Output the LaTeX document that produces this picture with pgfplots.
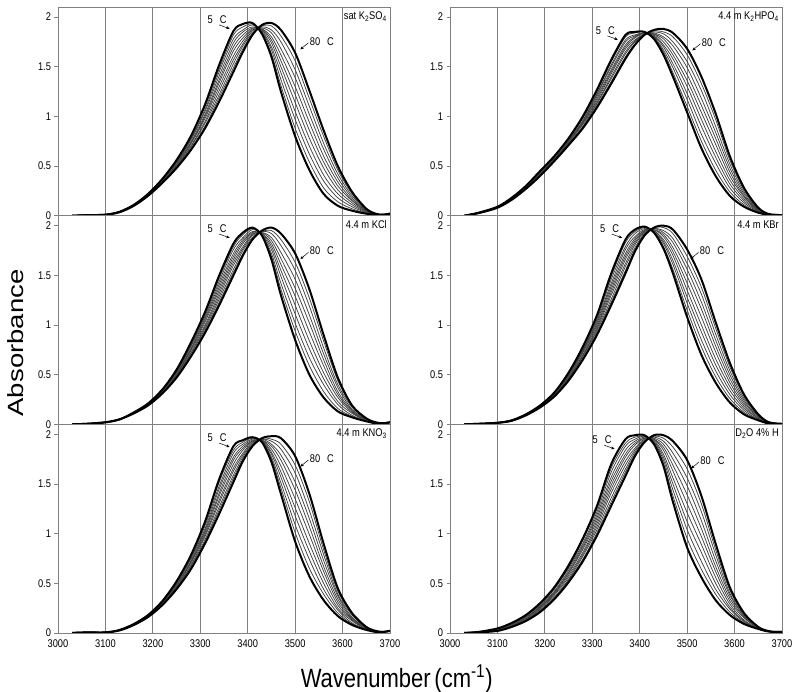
\documentclass[border=0pt]{standalone}
\usepackage{fontspec}
\setmainfont{Liberation Sans}
\usepackage{graphicx}
\usepackage{pgfplots}
\usepackage{pgfplotstable}
\pgfplotsset{compat=1.18}
\usetikzlibrary{arrows.meta}

\newcommand\tl[1]{\scalebox{1}[1.2]{#1}}
\newcommand\smallfont{\fontsize{9.3}{10}\selectfont}

% sat K2SO4
\pgfplotstableread{
x c0 c1 c2 c3 c4 c5 c6 c7 c8 c9 c10
3030 0 0 0 0 0 0 0 0 0 0 0
3060 0.005 0.005 0.005 0.005 0.005 0.005 0.005 0.005 0.005 0.005 0.005
3100 0.01 0.01 0.01 0.01 0.01 0.01 0.01 0.01 0.01 0.01 0.01
3130 0.04 0.04 0.04 0.04 0.04 0.04 0.04 0.04 0.04 0.04 0.035
3160 0.11 0.11 0.11 0.11 0.11 0.105 0.10 0.10 0.10 0.10 0.10
3190 0.22 0.22 0.22 0.21 0.21 0.21 0.21 0.21 0.20 0.20 0.20
3220 0.37 0.37 0.36 0.36 0.35 0.35 0.35 0.34 0.34 0.33 0.33
3250 0.56 0.55 0.54 0.54 0.53 0.52 0.51 0.50 0.50 0.49 0.48
3280 0.80 0.79 0.77 0.76 0.74 0.73 0.72 0.70 0.69 0.67 0.66
3310 1.12 1.10 1.07 1.05 1.02 1.00 0.98 0.95 0.93 0.90 0.88
3340 1.52 1.48 1.45 1.41 1.37 1.34 1.30 1.26 1.22 1.19 1.15
3370 1.86 1.82 1.78 1.74 1.70 1.66 1.61 1.57 1.53 1.49 1.45
3390 1.93 1.90 1.87 1.85 1.82 1.79 1.76 1.73 1.71 1.68 1.65
3410 1.94 1.93 1.92 1.90 1.89 1.88 1.87 1.86 1.84 1.83 1.82
3430 1.83 1.84 1.85 1.86 1.87 1.88 1.88 1.89 1.90 1.91 1.92
3450 1.60 1.63 1.67 1.70 1.74 1.77 1.80 1.84 1.87 1.91 1.94
3470 1.25 1.31 1.37 1.44 1.50 1.56 1.62 1.68 1.75 1.81 1.87
3500 0.80 0.88 0.97 1.05 1.14 1.22 1.30 1.39 1.47 1.56 1.64
3530 0.46 0.54 0.62 0.70 0.78 0.86 0.94 1.02 1.10 1.18 1.26
3560 0.22 0.28 0.35 0.41 0.48 0.54 0.60 0.67 0.73 0.80 0.86
3590 0.10 0.14 0.18 0.22 0.26 0.30 0.34 0.38 0.42 0.46 0.50
3620 0.05 0.07 0.09 0.11 0.13 0.15 0.16 0.18 0.20 0.22 0.24
3650 0.02 0.025 0.03 0.035 0.04 0.045 0.05 0.055 0.06 0.065 0.07
3670 0.01 0.01 0.01 0.01 0.01 0.015 0.015 0.02 0.02 0.02 0.02
3685 0.01 0.01 0.01 0.01 0.01 0.01 0.01 0.01 0.01 0.01 0.01
3700 0.02 0.02 0.02 0.02 0.02 0.02 0.02 0.02 0.02 0.02 0.02
}\tabA

% 4.4 m K2HPO4
\pgfplotstableread{
x c0 c1 c2 c3 c4 c5 c6 c7 c8 c9 c10
3030 0 0 0 0 0 0 0 0 0 0 0
3060 0.03 0.03 0.03 0.03 0.03 0.03 0.03 0.025 0.025 0.025 0.025
3100 0.09 0.09 0.09 0.09 0.09 0.085 0.085 0.08 0.08 0.08 0.08
3130 0.18 0.18 0.18 0.17 0.17 0.17 0.17 0.17 0.16 0.16 0.16
3160 0.30 0.30 0.29 0.29 0.29 0.29 0.28 0.28 0.28 0.27 0.27
3190 0.45 0.45 0.44 0.44 0.43 0.43 0.42 0.42 0.41 0.41 0.40
3220 0.60 0.60 0.59 0.59 0.58 0.58 0.57 0.57 0.56 0.56 0.55
3250 0.78 0.77 0.77 0.76 0.75 0.75 0.74 0.73 0.72 0.72 0.71
3280 1.00 0.99 0.98 0.96 0.95 0.94 0.93 0.92 0.90 0.89 0.88
3310 1.27 1.25 1.23 1.22 1.20 1.18 1.16 1.14 1.13 1.11 1.09
3340 1.57 1.55 1.52 1.50 1.47 1.45 1.43 1.40 1.38 1.35 1.33
3370 1.82 1.80 1.77 1.75 1.72 1.70 1.68 1.65 1.63 1.60 1.58
3390 1.85 1.84 1.82 1.81 1.80 1.79 1.77 1.76 1.75 1.73 1.72
3410 1.85 1.85 1.84 1.84 1.84 1.84 1.83 1.83 1.83 1.82 1.82
3430 1.78 1.79 1.80 1.81 1.82 1.83 1.83 1.84 1.85 1.86 1.87
3450 1.62 1.65 1.67 1.70 1.72 1.75 1.78 1.80 1.83 1.85 1.88
3470 1.40 1.44 1.49 1.53 1.58 1.62 1.66 1.71 1.75 1.80 1.84
3500 1.04 1.10 1.17 1.23 1.30 1.36 1.42 1.49 1.55 1.62 1.68
3530 0.68 0.75 0.82 0.90 0.97 1.04 1.11 1.18 1.26 1.33 1.40
3560 0.40 0.46 0.53 0.59 0.65 0.72 0.78 0.84 0.90 0.97 1.03
3590 0.20 0.24 0.28 0.32 0.36 0.40 0.44 0.48 0.52 0.56 0.60
3620 0.09 0.11 0.13 0.15 0.17 0.19 0.20 0.22 0.24 0.26 0.28
3650 0.03 0.035 0.04 0.045 0.05 0.055 0.06 0.065 0.07 0.075 0.08
3670 0.01 0.01 0.01 0.01 0.01 0.015 0.015 0.02 0.02 0.02 0.02
3685 0.005 0.005 0.005 0.005 0.005 0.01 0.01 0.01 0.01 0.01 0.01
3700 0.005 0.005 0.005 0.005 0.005 0.005 0.005 0.005 0.005 0.005 0.005
}\tabB

% 4.4 m KCl
\pgfplotstableread{
x c0 c1 c2 c3 c4 c5 c6 c7 c8 c9 c10
3030 0 0 0 0 0 0 0 0 0 0 0
3060 0.005 0.005 0.005 0.005 0.005 0.005 0.005 0.005 0.005 0.005 0.005
3100 0.02 0.02 0.02 0.02 0.02 0.02 0.02 0.02 0.02 0.02 0.02
3130 0.05 0.05 0.05 0.05 0.05 0.05 0.05 0.05 0.05 0.05 0.05
3160 0.12 0.12 0.12 0.12 0.12 0.115 0.11 0.11 0.11 0.11 0.11
3190 0.21 0.21 0.21 0.20 0.20 0.20 0.20 0.20 0.19 0.19 0.19
3220 0.35 0.35 0.34 0.34 0.33 0.33 0.33 0.32 0.32 0.31 0.31
3250 0.55 0.54 0.53 0.53 0.52 0.51 0.50 0.49 0.49 0.48 0.47
3280 0.82 0.81 0.79 0.78 0.76 0.75 0.74 0.72 0.71 0.69 0.68
3310 1.13 1.11 1.09 1.07 1.05 1.03 1.00 0.98 0.96 0.94 0.92
3340 1.50 1.47 1.44 1.41 1.38 1.35 1.32 1.29 1.26 1.23 1.20
3370 1.82 1.79 1.76 1.72 1.69 1.66 1.63 1.60 1.56 1.53 1.50
3390 1.93 1.91 1.88 1.86 1.84 1.82 1.79 1.77 1.75 1.72 1.70
3410 1.98 1.97 1.96 1.94 1.93 1.92 1.91 1.90 1.88 1.87 1.86
3430 1.90 1.90 1.91 1.91 1.92 1.92 1.93 1.93 1.94 1.94 1.95
3450 1.66 1.69 1.72 1.76 1.79 1.82 1.85 1.88 1.92 1.95 1.98
3470 1.30 1.36 1.42 1.49 1.55 1.61 1.67 1.73 1.80 1.86 1.92
3500 0.85 0.94 1.02 1.11 1.20 1.29 1.37 1.46 1.55 1.63 1.72
3530 0.50 0.59 0.67 0.76 0.84 0.93 1.02 1.10 1.19 1.27 1.36
3560 0.27 0.33 0.40 0.46 0.52 0.59 0.65 0.71 0.77 0.84 0.90
3590 0.13 0.16 0.20 0.23 0.27 0.30 0.33 0.37 0.40 0.44 0.47
3620 0.07 0.08 0.09 0.11 0.12 0.13 0.14 0.15 0.17 0.18 0.19
3650 0.03 0.03 0.04 0.04 0.04 0.045 0.05 0.05 0.05 0.06 0.06
3670 0.01 0.01 0.01 0.01 0.01 0.015 0.015 0.02 0.02 0.02 0.02
3685 0.01 0.01 0.01 0.01 0.01 0.01 0.01 0.01 0.01 0.01 0.01
3700 0.02 0.02 0.02 0.02 0.02 0.02 0.02 0.02 0.02 0.02 0.02
}\tabC

% 4.4 m KBr
\pgfplotstableread{
x c0 c1 c2 c3 c4 c5 c6 c7 c8 c9 c10
3030 0 0 0 0 0 0 0 0 0 0 0
3060 0.005 0.005 0.005 0.005 0.005 0.005 0.005 0.005 0.005 0.005 0.005
3100 0.015 0.015 0.015 0.015 0.015 0.015 0.015 0.015 0.015 0.015 0.015
3130 0.04 0.04 0.04 0.04 0.04 0.04 0.035 0.035 0.035 0.035 0.035
3160 0.10 0.10 0.10 0.10 0.10 0.095 0.095 0.09 0.09 0.09 0.09
3190 0.19 0.19 0.19 0.18 0.18 0.18 0.18 0.18 0.17 0.17 0.17
3220 0.32 0.32 0.31 0.31 0.30 0.30 0.30 0.29 0.29 0.28 0.28
3250 0.52 0.51 0.50 0.50 0.49 0.48 0.47 0.46 0.46 0.45 0.44
3280 0.78 0.77 0.75 0.74 0.73 0.72 0.70 0.69 0.68 0.66 0.65
3310 1.10 1.08 1.06 1.04 1.02 1.00 0.98 0.96 0.94 0.92 0.90
3340 1.52 1.49 1.46 1.42 1.39 1.36 1.33 1.30 1.26 1.23 1.20
3370 1.86 1.83 1.79 1.76 1.72 1.69 1.66 1.62 1.59 1.55 1.52
3390 1.96 1.94 1.92 1.89 1.87 1.85 1.83 1.81 1.78 1.76 1.74
3410 1.99 1.98 1.97 1.96 1.95 1.95 1.94 1.93 1.92 1.91 1.90
3430 1.93 1.94 1.94 1.95 1.95 1.96 1.96 1.97 1.97 1.98 1.98
3450 1.77 1.79 1.82 1.84 1.86 1.89 1.91 1.93 1.95 1.98 2.00
3470 1.52 1.56 1.61 1.65 1.70 1.74 1.78 1.83 1.87 1.92 1.96
3500 1.08 1.15 1.22 1.28 1.35 1.42 1.49 1.56 1.62 1.69 1.76
3530 0.70 0.78 0.85 0.93 1.00 1.08 1.16 1.23 1.31 1.38 1.46
3560 0.42 0.48 0.54 0.60 0.66 0.73 0.79 0.85 0.91 0.97 1.03
3590 0.22 0.26 0.30 0.34 0.38 0.42 0.46 0.50 0.54 0.58 0.62
3620 0.10 0.12 0.14 0.16 0.18 0.20 0.22 0.24 0.26 0.28 0.30
3650 0.04 0.05 0.05 0.06 0.06 0.07 0.08 0.08 0.09 0.09 0.10
3670 0.01 0.01 0.01 0.015 0.015 0.02 0.02 0.02 0.02 0.025 0.025
3685 0.005 0.005 0.005 0.005 0.005 0.01 0.01 0.01 0.01 0.01 0.01
3700 0.005 0.005 0.005 0.005 0.005 0.005 0.005 0.005 0.005 0.005 0.005
}\tabD

% 4.4 m KNO3
\pgfplotstableread{
x c0 c1 c2 c3 c4 c5 c6 c7 c8 c9 c10
3030 0 0 0 0 0 0 0 0 0 0 0
3060 0.005 0.005 0.005 0.005 0.005 0.005 0.005 0.005 0.005 0.005 0.005
3100 0.005 0.005 0.005 0.005 0.005 0.005 0.005 0.005 0.005 0.005 0.005
3130 0.03 0.03 0.03 0.03 0.03 0.025 0.025 0.025 0.025 0.025 0.025
3160 0.09 0.09 0.09 0.09 0.09 0.085 0.085 0.08 0.08 0.08 0.08
3190 0.18 0.18 0.18 0.17 0.17 0.17 0.17 0.17 0.16 0.16 0.16
3220 0.32 0.32 0.31 0.31 0.30 0.30 0.30 0.29 0.29 0.28 0.28
3250 0.52 0.51 0.50 0.50 0.49 0.48 0.47 0.46 0.46 0.45 0.44
3280 0.78 0.77 0.75 0.74 0.72 0.71 0.70 0.68 0.67 0.65 0.64
3310 1.12 1.10 1.08 1.05 1.03 1.01 0.99 0.97 0.94 0.92 0.90
3340 1.55 1.52 1.48 1.45 1.41 1.38 1.34 1.31 1.27 1.24 1.20
3370 1.88 1.84 1.81 1.77 1.74 1.70 1.66 1.63 1.59 1.56 1.52
3390 1.94 1.92 1.90 1.88 1.86 1.84 1.81 1.79 1.77 1.75 1.73
3410 1.97 1.96 1.95 1.94 1.93 1.93 1.92 1.91 1.90 1.89 1.88
3430 1.92 1.92 1.93 1.93 1.94 1.94 1.94 1.95 1.95 1.96 1.96
3450 1.72 1.75 1.77 1.80 1.82 1.85 1.88 1.90 1.93 1.95 1.98
3470 1.40 1.46 1.51 1.57 1.62 1.68 1.74 1.79 1.85 1.90 1.96
3500 0.92 1.01 1.09 1.18 1.26 1.35 1.44 1.52 1.61 1.69 1.78
3530 0.57 0.65 0.74 0.82 0.90 0.99 1.07 1.15 1.23 1.32 1.40
3560 0.33 0.39 0.44 0.50 0.56 0.62 0.67 0.73 0.79 0.84 0.90
3590 0.17 0.20 0.23 0.25 0.28 0.31 0.34 0.37 0.39 0.42 0.45
3620 0.08 0.09 0.10 0.12 0.13 0.14 0.15 0.16 0.18 0.19 0.20
3650 0.03 0.03 0.04 0.04 0.04 0.045 0.05 0.05 0.05 0.06 0.06
3670 0.01 0.01 0.01 0.01 0.01 0.015 0.015 0.02 0.02 0.02 0.02
3685 0.01 0.01 0.01 0.01 0.01 0.01 0.01 0.01 0.01 0.01 0.01
3700 0.02 0.02 0.02 0.02 0.02 0.02 0.02 0.02 0.02 0.02 0.02
}\tabE

% D2O 4% H
\pgfplotstableread{
x c0 c1 c2 c3 c4 c5 c6 c7 c8 c9 c10
3030 0 0 0 0 0 0 0 0 0 0 0
3060 0.01 0.01 0.01 0.01 0.01 0.008 0.008 0.006 0.006 0.005 0.005
3100 0.045 0.04 0.04 0.04 0.035 0.03 0.03 0.03 0.025 0.02 0.02
3130 0.10 0.10 0.09 0.09 0.08 0.08 0.08 0.07 0.07 0.06 0.06
3160 0.18 0.17 0.17 0.16 0.16 0.15 0.14 0.14 0.13 0.13 0.12
3190 0.30 0.29 0.28 0.27 0.26 0.26 0.25 0.24 0.23 0.22 0.21
3220 0.46 0.45 0.44 0.42 0.41 0.40 0.39 0.38 0.36 0.35 0.34
3250 0.68 0.66 0.65 0.63 0.61 0.60 0.58 0.56 0.54 0.53 0.51
3280 0.95 0.93 0.90 0.88 0.86 0.84 0.81 0.79 0.77 0.74 0.72
3310 1.28 1.25 1.22 1.19 1.16 1.13 1.10 1.07 1.04 1.01 0.98
3340 1.70 1.66 1.62 1.57 1.53 1.49 1.45 1.41 1.36 1.32 1.28
3370 1.95 1.91 1.88 1.84 1.80 1.77 1.73 1.69 1.65 1.62 1.58
3390 1.99 1.97 1.95 1.93 1.91 1.89 1.86 1.84 1.82 1.80 1.78
3410 1.99 1.98 1.98 1.97 1.96 1.96 1.95 1.94 1.93 1.93 1.92
3430 1.90 1.91 1.92 1.93 1.94 1.95 1.95 1.96 1.97 1.98 1.99
3450 1.68 1.71 1.74 1.77 1.80 1.84 1.87 1.90 1.93 1.96 1.99
3470 1.32 1.38 1.44 1.50 1.56 1.63 1.69 1.75 1.81 1.87 1.93
3500 0.86 0.95 1.04 1.12 1.21 1.30 1.39 1.48 1.56 1.65 1.74
3530 0.56 0.64 0.72 0.81 0.89 0.97 1.05 1.13 1.22 1.30 1.38
3560 0.33 0.39 0.44 0.50 0.56 0.62 0.67 0.73 0.79 0.84 0.90
3590 0.18 0.21 0.24 0.26 0.29 0.32 0.35 0.38 0.40 0.43 0.46
3620 0.09 0.10 0.11 0.12 0.13 0.15 0.16 0.17 0.18 0.19 0.20
3650 0.04 0.04 0.04 0.045 0.045 0.05 0.05 0.05 0.055 0.055 0.06
3670 0.015 0.015 0.015 0.015 0.015 0.02 0.02 0.02 0.02 0.02 0.02
3685 0.01 0.01 0.01 0.01 0.01 0.01 0.01 0.01 0.01 0.01 0.01
3700 0.01 0.01 0.01 0.01 0.01 0.01 0.01 0.01 0.01 0.01 0.01
}\tabF

\pgfplotsset{
  panel/.style={
    scale only axis, width=332pt, height=208.6pt,
    anchor=south west,
    xmin=3000, xmax=3700, ymin=0, ymax=2.1,
    xtick={3000,3100,...,3700}, ytick={0,0.5,1,1.5,2},
    xmajorgrids, grid style={color=gray, line width=0.8pt},
    axis line style={color=gray, line width=0.8pt},
    xtick style={draw=none},
    ytick style={color=gray, line width=0.8pt},
    tick align=outside, major tick length=3.5pt,
    xtick pos=left, ytick pos=left,
    scaled ticks=false,
    /pgf/number format/assume math mode=true,
    /pgf/number format/1000 sep={},
    tick label style={font=\smallfont},
    yticklabel={\tl{\pgfmathprintnumber{\tick}}},
  },
  nox/.style={xticklabels={}},
  withx/.style={xticklabel={\tl{\pgfmathprintnumber{\tick}}}},
}

% all temperature curves of one panel, 5 C and 80 C drawn thick
\newcommand\drawband[1]{%
  \pgfplotsinvokeforeach{1,...,9}{\addplot[black!75, line width=0.75pt, smooth] table[x=x, y=c##1] {#1};}%
  \addplot[black, line width=2pt, smooth] table[x=x, y=c0] {#1};%
  \addplot[black, line width=2pt, smooth] table[x=x, y=c10] {#1};%
}

% name, tip of 5 C arrow, tip of 80 C arrow
\newcommand\panelmarks[5]{%
  \node[anchor=north east, font=\smallfont, inner sep=0pt, xshift=-3pt, yshift=-4.5pt] at (rel axis cs:1,1) {\tl{#1}};
  \draw[black, line width=0.5pt, -{Stealth[length=3.5pt,width=3pt]}] (axis cs:#2,#3) ++(-11pt,4pt) -- ++(10.5pt,-3.8pt);
  \node[font=\smallfont, inner sep=0pt, xshift=-13pt, yshift=9pt] at (axis cs:#2,#3) {\tl{5\hspace{0.75em}C}};
  \draw[black, line width=0.5pt, -{Stealth[length=3.5pt,width=3pt]}] (axis cs:#4,#5) ++(8.5pt,7pt) -- ++(-8pt,-6.6pt);
  \node[font=\smallfont, inner sep=0pt, xshift=22pt, yshift=8.5pt] at (axis cs:#4,#5) {\tl{80\hspace{0.75em}C}};
}

\begin{document}
\begin{tikzpicture}
\useasboundingbox (0pt,0pt) rectangle (800pt,691pt);

\begin{axis}[panel, nox, at={(58pt,475.3pt)}]
\drawband{\tabA}
\panelmarks{sat K\textsubscript{2}SO\textsubscript{4}}{3363}{1.88}{3510}{1.67}
\end{axis}

\begin{axis}[panel, nox, at={(450pt,475.3pt)}]
\drawband{\tabB}
\panelmarks{4.4 m K\textsubscript{2}HPO\textsubscript{4}}{3355}{1.77}{3510}{1.66}
\end{axis}

\begin{axis}[panel, nox, at={(58pt,266.7pt)}]
\drawband{\tabC}
\panelmarks{4.4 m KCl}{3363}{1.875}{3510}{1.66}
\end{axis}

\begin{axis}[panel, nox, at={(450pt,266.7pt)}]
\drawband{\tabD}
\panelmarks{4.4 m KBr}{3364}{1.875}{3506}{1.66}
\end{axis}

\begin{axis}[panel, withx, at={(58pt,58.1pt)}]
\drawband{\tabE}
\panelmarks{4.4 m KNO\textsubscript{3}}{3363}{1.87}{3510}{1.67}
\end{axis}

\begin{axis}[panel, withx, at={(450pt,58.1pt)}]
\drawband{\tabF}
\panelmarks{D\textsubscript{2}O 4\% H}{3348}{1.85}{3507}{1.65}
\end{axis}

\node[rotate=90] at (16pt,348pt) {\scalebox{1.25}[1]{\fontsize{22}{24}\selectfont Absorbance}};
\node[anchor=base] at (396.7pt,4pt) {\scalebox{1}[1.2]{\fontsize{22}{24}\selectfont Wavenumber\,(cm\textsuperscript{-1})}};
\end{tikzpicture}
\end{document}
